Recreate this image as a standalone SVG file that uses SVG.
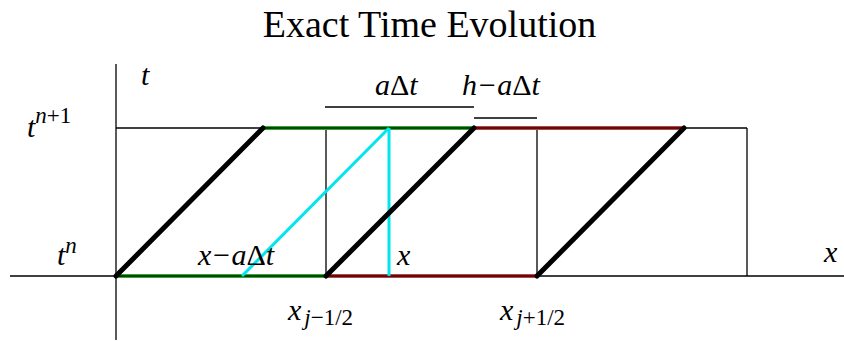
<svg xmlns="http://www.w3.org/2000/svg" width="844" height="341" viewBox="0 0 844 341">
<style>
.thin{stroke:#000;stroke-width:1.3;fill:none}
.char{stroke:#000;stroke-width:5;stroke-linecap:round}
.green{stroke:#22b422;stroke-width:4}
.red{stroke:#d03a3a;stroke-width:4}
.cyan{stroke:#00e5ee;stroke-width:3}
.core{stroke:#111;stroke-width:1.5}
text{font-family:"Liberation Serif","Times New Roman",serif;fill:#000}
.lbl{font-style:italic;font-size:30px}
.sup{font-style:italic;font-size:23px}
.up{font-style:normal}
</style>
<rect width="844" height="341" fill="#fff"/>
<text x="429.5" y="37" font-size="38" text-anchor="middle">Exact Time Evolution</text>
<g id="connectors">
<line class="thin" x1="116" y1="64" x2="116" y2="340"/>
<line class="thin" x1="10" y1="276" x2="844" y2="276"/>
<line class="thin" x1="116" y1="128" x2="747" y2="128"/>
<line class="thin" x1="326" y1="128" x2="326" y2="276"/>
<line class="thin" x1="537" y1="128" x2="537" y2="276"/>
<line class="thin" x1="747" y1="128" x2="747" y2="276"/>
<line class="green" x1="116" y1="276" x2="326" y2="276"/>
<line class="green" x1="263" y1="128" x2="474" y2="128"/>
<line class="red" x1="326" y1="276" x2="537" y2="276"/>
<line class="red" x1="474" y1="128" x2="684" y2="128"/>
<line class="core" x1="116" y1="276" x2="537" y2="276"/>
<line class="core" x1="263" y1="128" x2="684" y2="128"/>
<line class="cyan" x1="242" y1="276" x2="389" y2="128"/>
<line class="cyan" x1="389" y1="128" x2="389" y2="276"/>
<line class="char" x1="116" y1="276" x2="263" y2="128"/>
<line class="char" x1="326" y1="276" x2="474" y2="128"/>
<line class="char" x1="537" y1="276" x2="684" y2="128"/>
<line class="thin" x1="325" y1="107" x2="474" y2="107"/>
<line class="thin" x1="474" y1="118" x2="537" y2="118"/>
</g>
<g id="labels">
<text class="lbl" x="141" y="85">t</text>
<text class="lbl" x="27" y="137">t<tspan class="sup" dy="-14">n<tspan class="up">+1</tspan></tspan></text>
<text class="lbl" x="57" y="265">t<tspan class="sup" dy="-12">n</tspan></text>
<text class="lbl" x="198" y="265">x−a<tspan class="up">Δ</tspan>t</text>
<text class="lbl" x="397" y="265">x</text>
<text class="lbl" x="375" y="95">a<tspan class="up">Δ</tspan>t</text>
<text class="lbl" x="462" y="95">h−a<tspan class="up">Δ</tspan>t</text>
<text class="lbl" x="288" y="320">x<tspan class="sup" dx="3" dy="5">j<tspan class="up">−1/2</tspan></tspan></text>
<text class="lbl" x="500" y="320">x<tspan class="sup" dx="3" dy="5">j<tspan class="up">+1/2</tspan></tspan></text>
<text class="lbl" x="824" y="262">x</text>
</g>
</svg>
